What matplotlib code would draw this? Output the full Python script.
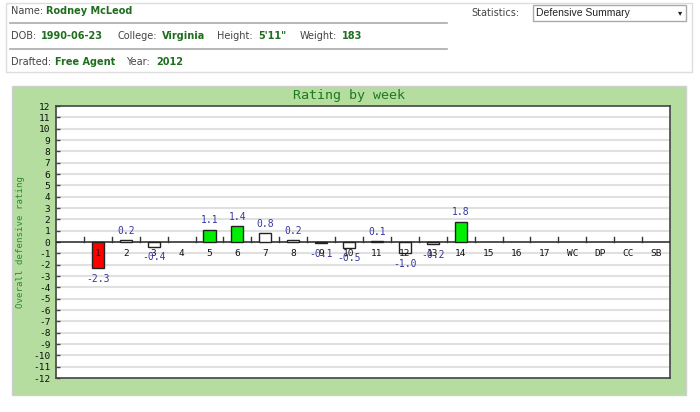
import matplotlib
matplotlib.use("Agg")
import matplotlib.pyplot as plt
from matplotlib.patches import Rectangle

weeks = ["1", "2", "3", "4", "5", "6", "7", "8", "9", "10", "11", "12", "13",
         "14", "15", "16", "17", "WC", "DP", "CC", "SB"]
ratings = [-2.3, 0.2, -0.4, None, 1.1, 1.4, 0.8, 0.2, -0.1, -0.5, 0.1, -1.0,
           -0.2, 1.8, None, None, None, None, None, None, None]
y_ticks = list(range(-12, 13))

W, H = 700, 412
fig = plt.figure(figsize=(W / 100, H / 100), dpi=100)
fig.patch.set_facecolor("white")

def px(x, y):
    return x / W, 1 - y / H

mono = "DejaVu Sans Mono"
sans = "DejaVu Sans"

# ---------- header ----------
fig.patches.append(Rectangle(px(6, 72), 686 / W, 69 / H, transform=fig.transFigure,
                             facecolor="white", edgecolor="#dddddd", lw=1, zorder=-2))
for yy in (23, 49):
    fig.add_artist(plt.Line2D([10 / W, 447 / W], [1 - yy / H] * 2,
                              transform=fig.transFigure, color="#aaaaaa", lw=1.2))
lab_c, val_c = "#444444", "#1e6e1e"
header = [
    (11, 11, "Name:", False), (46, 11, "Rodney McLeod", True),
    (11, 36, "DOB:", False), (41, 36, "1990-06-23", True),
    (118, 36, "College:", False), (162, 36, "Virginia", True),
    (217, 36, "Height:", False), (258, 36, "5'11\"", True),
    (300, 36, "Weight:", False), (342, 36, "183", True),
    (11, 62, "Drafted:", False), (55, 62, "Free Agent", True),
    (126, 62, "Year:", False), (156, 62, "2012", True),
    (471, 13, "Statistics:", False),
]
for x, y, t, b in header:
    fig.text(*px(x, y), t, ha="left", va="center", fontsize=7, family=sans,
             color=val_c if b else lab_c, fontweight="bold" if b else "normal")
fig.patches.append(Rectangle(px(533, 21), 153 / W, 16 / H, transform=fig.transFigure,
                             facecolor="white", edgecolor="#aaaaaa", lw=1, zorder=-1))
fig.text(*px(536, 13), "Defensive Summary", ha="left", va="center", fontsize=7.5,
         family="Liberation Sans", color="#222222")
fig.text(*px(680, 13), "\u25BE", ha="center", va="center", fontsize=6, family=sans,
         color="#222222")

# ---------- green panel ----------
fig.patches.append(Rectangle(px(12, 395), 674 / W, 309 / H, transform=fig.transFigure,
                             facecolor="#b4dd9f", edgecolor="#cfcfcf", lw=1, zorder=-2))
fig.text(*px(349, 96), "Rating by week", ha="center", va="center", fontsize=9.6,
         family=mono, color="#1f7a1f")

left, top, right, bottom = 56, 106, 670, 378
ax = fig.add_axes([left / W, 1 - bottom / H, (right - left) / W, (bottom - top) / H])
ax.set_zorder(2)
ax.set_facecolor("white")
n = len(weeks)
ax.set_xlim(-1.5, n - 0.5)
ax.set_ylim(-12, 12)
for s in ax.spines.values():
    s.set_color("#444444")
    s.set_linewidth(1.2)

for yv in y_ticks:
    if yv not in (-12, 12, 0):
        ax.axhline(yv, color="#e0e0e0", lw=1.5, zorder=0)
ax.axhline(0, color="#222222", lw=1.1, zorder=3)

ax.set_yticks(y_ticks)
ax.set_yticklabels([str(v) for v in y_ticks], family=mono, fontsize=6.8, color="#111111")
ax.tick_params(axis="y", direction="in", length=3, width=1, color="#444444", pad=4)
ax.set_xticks([])
ax.set_ylabel("Overall defensive rating", family=mono, fontsize=6.6, color="#2e8b2e",
              labelpad=6)

# x tick marks at slot boundaries going up from zero line
for i in range(n):
    ax.plot([i - 0.5, i - 0.5], [0, 0.45], color="#333333", lw=1, zorder=3)

for i, (wk, v) in enumerate(zip(weeks, ratings)):
    if v is not None:
        if v <= -2:
            fc = "#ff0000"
        elif v >= 1:
            fc = "#00ee00"
        else:
            fc = "white"
        ax.bar(i, v, width=0.43, color=fc, edgecolor="#222222", lw=1, zorder=4)
        if v >= 0:
            ax.annotate(f"{v:.1f}", (i, v), xytext=(0, 3), textcoords="offset points",
                        ha="center", va="bottom", family=mono, fontsize=7,
                        color="#3535a5", zorder=9)
        else:
            ax.annotate(f"{v:.1f}", (i, v), xytext=(0, -4), textcoords="offset points",
                        ha="center", va="top", family=mono, fontsize=7,
                        color="#3535a5", zorder=9)
    ax.annotate(wk, (i, 0), xytext=(0, -8), textcoords="offset points",
                ha="center", va="center", family=mono, fontsize=6.8,
                color="#111111", zorder=8)

fig.savefig("out.png", dpi=100)
